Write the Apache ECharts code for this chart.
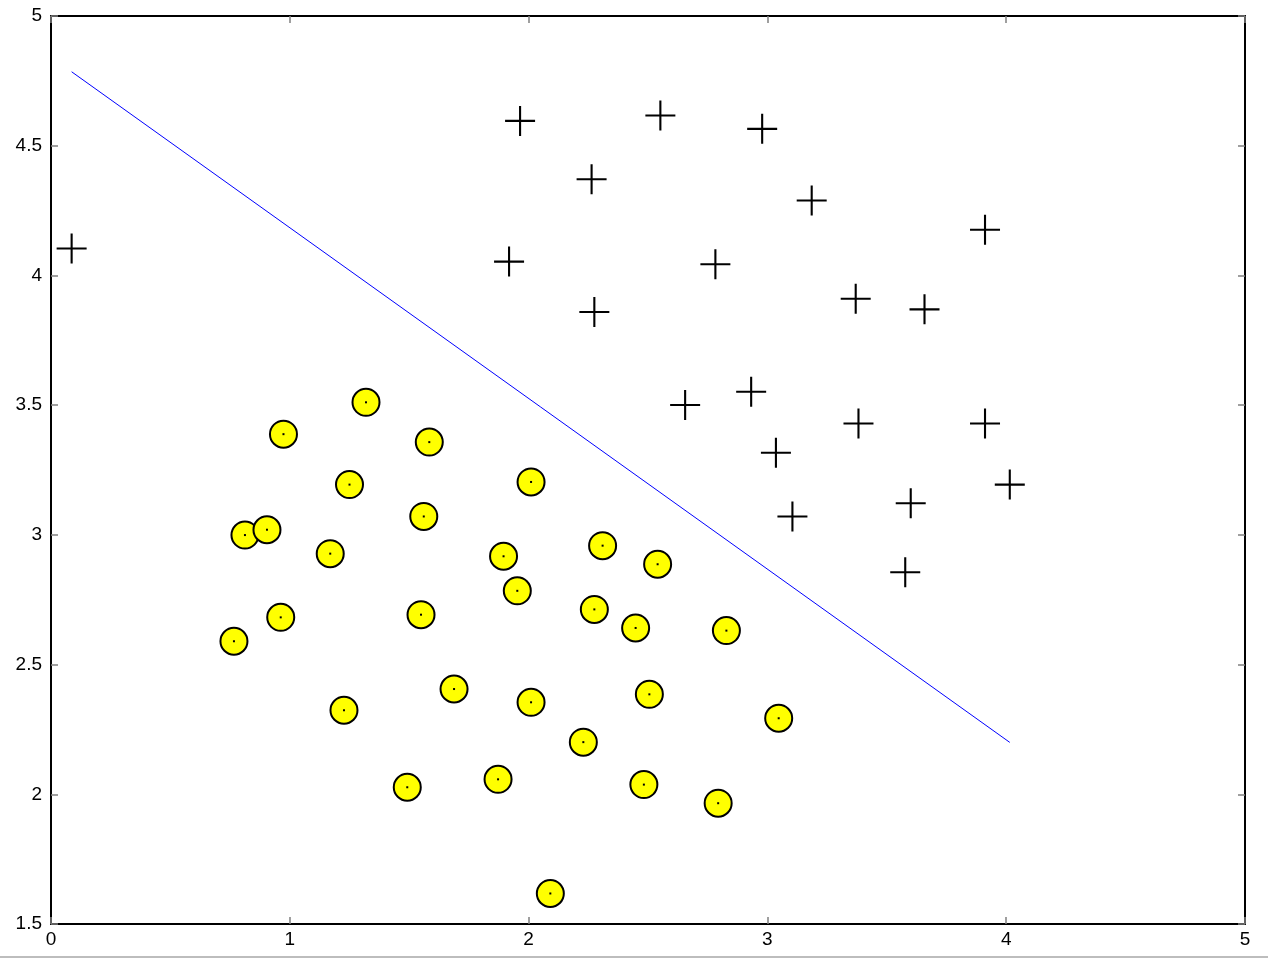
<!DOCTYPE html>
<html>
<head>
<meta charset="utf-8">
<script src="https://cdn.jsdelivr.net/npm/echarts@6/dist/echarts.min.js"></script>
<style>
html,body{margin:0;padding:0;background:#fff;}
#chart{width:1268px;height:958px;}
</style>
</head>
<body>
<div id="chart"></div>
<script>
// Positive examples (+)
const posX = [1.9643, 2.2753, 2.9781, 2.932, 3.5772, 4.015, 3.3814, 3.9113, 2.7822, 2.5518, 3.3698, 3.1048, 1.9182, 2.2638, 2.6555, 3.1855, 3.6579, 3.9113, 3.6002, 3.0357, 0.086405];
const posY = [4.5957, 3.8589, 4.5651, 3.5519, 2.856, 3.1937, 3.4291, 4.1761, 4.0431, 4.6162, 3.9101, 3.0709, 4.0534, 4.3706, 3.5008, 4.2888, 3.8692, 3.4291, 3.1221, 3.3165, 4.1039];
// Negative examples (yellow circles)
const negX = [1.5841, 2.0103, 1.9527, 2.2753, 2.3099, 2.8283, 3.0473, 2.4827, 2.5057, 1.8721, 2.0103, 1.2269, 1.8951, 1.561, 1.5495, 1.6878, 1.4919, 0.962, 1.1693, 0.8122, 0.9735, 1.25, 1.3191, 2.2292, 2.4482, 2.7938, 2.091, 2.5403, 0.9044, 0.76615];
const negY = [3.3575, 3.2039, 2.7843, 2.7127, 2.9584, 2.6309, 2.2931, 2.0373, 2.3853, 2.0577, 2.3546, 2.3239, 2.9174, 3.0709, 2.6923, 2.4057, 2.0271, 2.682, 2.9276, 2.9992, 3.3881, 3.1937, 3.5109, 2.201, 2.6411, 1.9656, 1.6177, 2.8867, 3.0198, 2.5899];
// Decision boundary endpoints
const boundaryX = [0.086405, 4.015];
const boundaryY = [4.785, 2.200];
// Axis ranges
const xRange = [0, 5, 1];
const yRange = [1.5, 5, 0.5];

const zip = (a, b) => a.map((v, i) => [v, b[i]]);
const font = '"Liberation Sans", Helvetica, Arial, sans-serif';

const baseAxis = {
  axisLine: { show: true, onZero: false, lineStyle: { color: '#000', width: 2 } },
  axisTick: { show: true, inside: true, length: 7, lineStyle: { color: '#808080', width: 1.5 } },
  splitLine: { show: false }
};

const chart = echarts.init(document.getElementById('chart'), null, { renderer: 'canvas' });
chart.setOption({
  animation: false,
  backgroundColor: '#fff',
  grid: { left: 51, top: 16, right: 23, bottom: 34, containLabel: false },
  xAxis: [
    Object.assign({}, baseAxis, {
      type: 'value', position: 'bottom', min: xRange[0], max: xRange[1], interval: xRange[2],
      axisLabel: { show: true, color: '#000', fontSize: 19, fontFamily: font, margin: 6 }
    }),
    Object.assign({}, baseAxis, {
      type: 'value', position: 'top', min: xRange[0], max: xRange[1], interval: xRange[2],
      axisLabel: { show: false }
    })
  ],
  yAxis: [
    Object.assign({}, baseAxis, {
      type: 'value', position: 'left', min: yRange[0], max: yRange[1], interval: yRange[2],
      axisLabel: { show: true, color: '#000', fontSize: 19, fontFamily: font, margin: 9 }
    }),
    Object.assign({}, baseAxis, {
      type: 'value', position: 'right', min: yRange[0], max: yRange[1], interval: yRange[2],
      axisLabel: { show: false }
    })
  ],
  graphic: [
    { type: 'rect', left: 0, top: 956, shape: { width: 1268, height: 2 }, style: { fill: '#bdbdbd' }, silent: true }
  ],
  series: [
    {
      type: 'line', data: zip(boundaryX, boundaryY), showSymbol: false, symbol: 'none',
      lineStyle: { color: '#0000ff', width: 1 }, z: 2
    },
    {
      type: 'scatter', data: zip(posX, posY),
      symbol: 'path://M-0.07,-1 L0.07,-1 L0.07,1 L-0.07,1 Z M-1,-0.07 L1,-0.07 L1,0.07 L-1,0.07 Z',
      symbolSize: 30, itemStyle: { color: '#000', borderWidth: 0, opacity: 1 }, z: 3
    },
    {
      type: 'scatter', data: zip(negX, negY), symbol: 'circle', symbolSize: 27,
      itemStyle: { color: '#ffff00', borderColor: '#000', borderWidth: 2, opacity: 1 }, z: 3
    },
    {
      type: 'scatter', data: zip(negX, negY), symbol: 'rect', symbolSize: 2,
      itemStyle: { color: '#000', opacity: 1 }, z: 4
    }
  ]
});
</script>
</body>
</html>
